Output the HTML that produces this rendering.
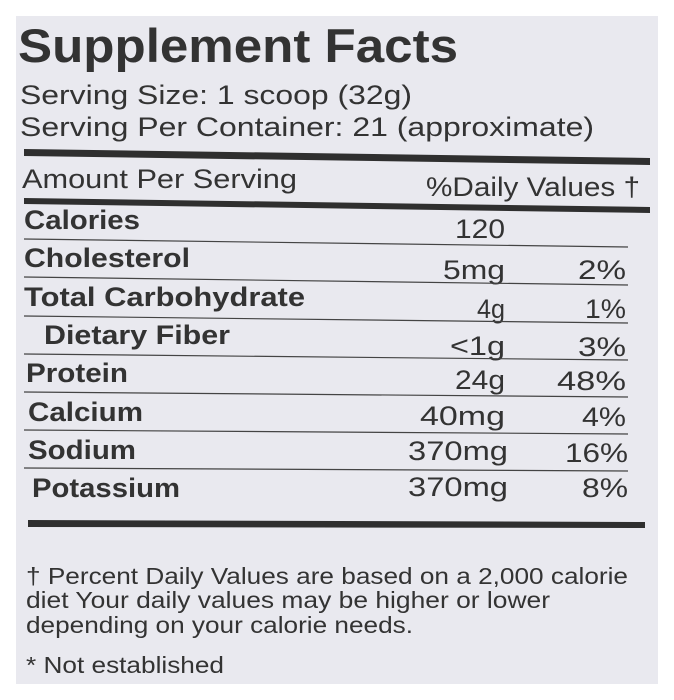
<!DOCTYPE html>
<html><head><style>
body{margin:0;background:#fff;}
svg{display:block}
text{font-family:"Liberation Sans",Arial,sans-serif;fill:#333;}
.b{font-weight:bold}
</style></head><body>
<svg width="674" height="700" viewBox="0 0 674 700">
<rect x="16" y="16" width="642" height="668" fill="#e9e9ef"/>
<text x="18" y="62" class="b" font-size="47" textLength="440" lengthAdjust="spacingAndGlyphs">Supplement Facts</text>
<text x="20" y="104" font-size="27" textLength="392" lengthAdjust="spacingAndGlyphs">Serving Size: 1 scoop (32g)</text>
<text x="20" y="136" font-size="27" textLength="574" lengthAdjust="spacingAndGlyphs">Serving Per Container: 21 (approximate)</text>
<polygon points="24,149 650,158 650,165 24,156" fill="#2f2f2f"/>
<text x="22" y="188" font-size="27" textLength="275" lengthAdjust="spacingAndGlyphs">Amount Per Serving</text>
<text x="426" y="196" font-size="27" textLength="214" lengthAdjust="spacingAndGlyphs">%Daily Values †</text>
<polygon points="24,198 650,207 650,213 24,204" fill="#2f2f2f"/>
<g font-size="27" lengthAdjust="spacingAndGlyphs">
<text x="24" y="229" class="b" textLength="116" lengthAdjust="spacingAndGlyphs">Calories</text><text x="455" y="238" textLength="50" lengthAdjust="spacingAndGlyphs">120</text>
<text x="24" y="267" class="b" textLength="166" lengthAdjust="spacingAndGlyphs">Cholesterol</text><text x="443" y="279" textLength="62" lengthAdjust="spacingAndGlyphs">5mg</text><text x="578" y="279" textLength="48" lengthAdjust="spacingAndGlyphs">2%</text>
<text x="24" y="306" class="b" textLength="281" lengthAdjust="spacingAndGlyphs">Total Carbohydrate</text><text x="477" y="318" textLength="28" lengthAdjust="spacingAndGlyphs">4g</text><text x="585" y="318" textLength="41" lengthAdjust="spacingAndGlyphs">1%</text>
<text x="44" y="344" class="b" textLength="186" lengthAdjust="spacingAndGlyphs">Dietary Fiber</text><text x="450" y="355" textLength="55" lengthAdjust="spacingAndGlyphs">&lt;1g</text><text x="578" y="356" textLength="48" lengthAdjust="spacingAndGlyphs">3%</text>
<text x="26" y="382" class="b" textLength="102" lengthAdjust="spacingAndGlyphs">Protein</text><text x="455" y="389" textLength="50" lengthAdjust="spacingAndGlyphs">24g</text><text x="557" y="390" textLength="69" lengthAdjust="spacingAndGlyphs">48%</text>
<text x="28" y="421" class="b" textLength="115" lengthAdjust="spacingAndGlyphs">Calcium</text><text x="420" y="425" textLength="85" lengthAdjust="spacingAndGlyphs">40mg</text><text x="582" y="426" textLength="44" lengthAdjust="spacingAndGlyphs">4%</text>
<text x="28" y="459" class="b" textLength="108" lengthAdjust="spacingAndGlyphs">Sodium</text><text x="408" y="460" textLength="100" lengthAdjust="spacingAndGlyphs">370mg</text><text x="565" y="462" textLength="63" lengthAdjust="spacingAndGlyphs">16%</text>
<text x="32" y="497" class="b" textLength="148" lengthAdjust="spacingAndGlyphs">Potassium</text><text x="408" y="496" textLength="100" lengthAdjust="spacingAndGlyphs">370mg</text><text x="582" y="497" textLength="46" lengthAdjust="spacingAndGlyphs">8%</text>
</g>
<g stroke="#444" stroke-width="1.2">
<line x1="24" y1="239" x2="628" y2="247"/>
<line x1="24" y1="277" x2="628" y2="285"/>
<line x1="24" y1="316" x2="628" y2="323"/>
<line x1="24" y1="354" x2="628" y2="360"/>
<line x1="24" y1="392" x2="628" y2="397"/>
<line x1="24" y1="430" x2="628" y2="434"/>
<line x1="24" y1="468" x2="628" y2="471"/>
</g>
<polygon points="28,520 645,522 645,528 28,527" fill="#2f2f2f"/>
<g font-size="23">
<text x="26" y="584" textLength="602" lengthAdjust="spacingAndGlyphs">† Percent Daily Values are based on a 2,000 calorie</text>
<text x="26" y="608" textLength="524" lengthAdjust="spacingAndGlyphs">diet Your daily values may be higher or lower</text>
<text x="26" y="633" textLength="387" lengthAdjust="spacingAndGlyphs">depending on your calorie needs.</text>
<text x="26" y="673" textLength="198" lengthAdjust="spacingAndGlyphs">* Not established</text>
</g>
</svg>
</body></html>
